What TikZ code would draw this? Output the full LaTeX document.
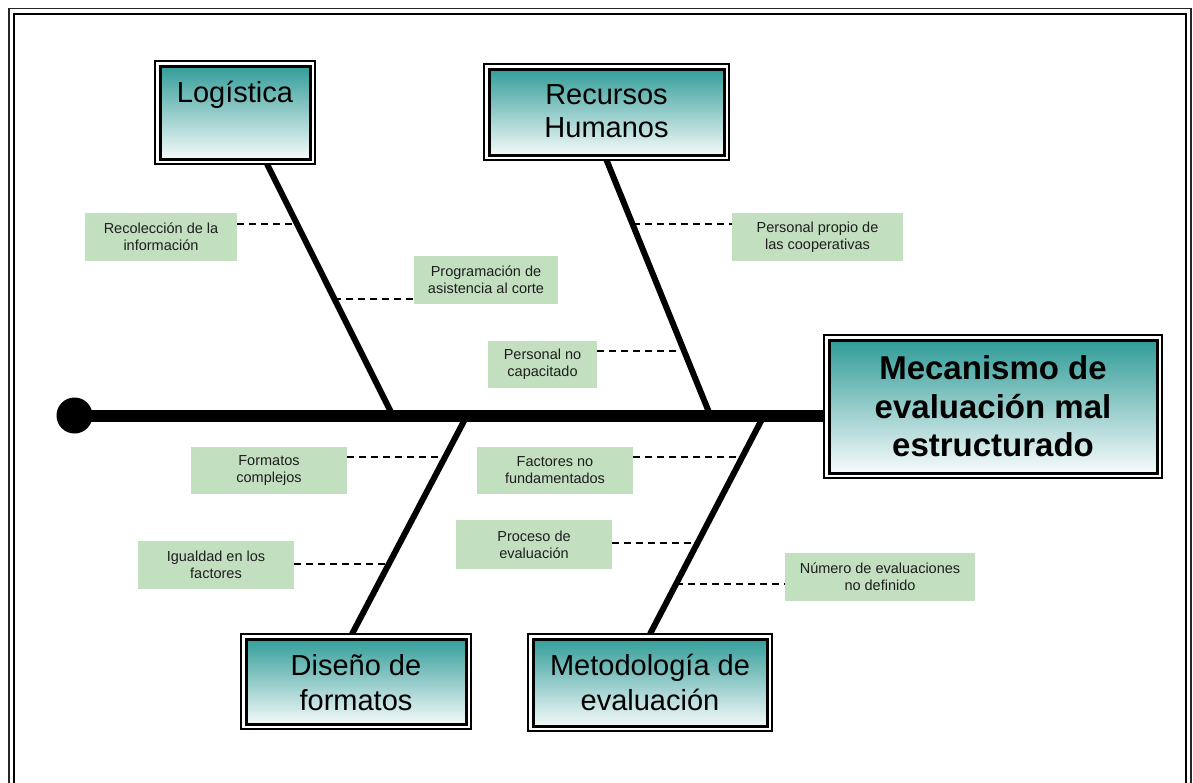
\documentclass[tikz,border=0pt]{standalone}
\usepackage{fontspec}
\setmainfont{Liberation Sans}
\usetikzlibrary{calc,backgrounds}
\definecolor{tealtop}{RGB}{40,152,148}
\definecolor{labgreen}{RGB}{194,224,192}
\definecolor{labtext}{RGB}{30,30,30}
\tikzset{
  catbox/.style={rectangle, draw, line width=2pt, fill=white, inner sep=0pt, outer sep=0pt,
    path picture={
      \shadedraw[top color=tealtop, bottom color=white, draw=black, line width=3pt]
        ([shift={(5pt,-5pt)}]path picture bounding box.north west) rectangle
        ([shift={(-5pt,5pt)}]path picture bounding box.south east);
    }},
  cattext/.style={font=\fontsize{29}{33}\selectfont, align=center, inner sep=0pt, anchor=base},
  headtext/.style={font=\bfseries\fontsize{33}{38.5}\selectfont, align=center},
  lab/.style={rectangle, fill=labgreen, text=labtext, font=\fontsize{14.5}{17}\selectfont,
    align=center, inner sep=0pt, outer sep=0pt},
  spine/.style={line width=12pt},
  bone/.style={line width=6pt},
  dashline/.style={line width=1.3pt, dash pattern=on 7pt off 5pt},
}
\begin{document}
\begin{tikzpicture}[x=1pt, y=-1pt]
\useasboundingbox (0,0) rectangle (1193,782);
\clip (0,0) rectangle (1193,782);

% page frame
\draw[line width=1.6pt, black!85] (9,8.5) rectangle (1191,800);
\draw[line width=2.6pt] (14,14) rectangle (1186,800);

% effect box and category boxes (text base = last line's baseline)
\node[catbox, minimum width=338, minimum height=143] (head) at (993,406.5) {};
\node[headtext] (headt) at (head.center) {Mecanismo de\\evaluación mal\\estructurado};

\node[catbox, minimum width=160, minimum height=103] (log) at (235,112.5) {};
\node[cattext] (logt) at ([yshift=-41pt]log.north) {Logística};

\node[catbox, minimum width=245, minimum height=96] (rec) at (606.5,112) {};
\node[cattext] (rect) at ([yshift=-73pt]rec.north) {Recursos\\Humanos};

\node[catbox, minimum width=230, minimum height=95] (dis) at (356,681.5) {};
\node[cattext, font=\fontsize{29}{35}\selectfont] (dist) at ([yshift=-76pt]dis.north) {Diseño de\\formatos};

\node[catbox, minimum width=244, minimum height=97] (met) at (650,682.5) {};
\node[cattext, font=\fontsize{29}{35}\selectfont] (mett) at ([yshift=-76pt]met.north) {Metodología de\\evaluación};

% tail dot
\node[circle, fill=black, minimum size=36pt, inner sep=0pt] (dot) at (74.5,415.5) {};

% junctions on the spine
\coordinate (j1) at (392.7,415.5);
\coordinate (j2) at (710.3,415.5);
\coordinate (j3) at (466.9,415.5);
\coordinate (j4) at (763.9,415.5);

\begin{scope}[on background layer]
  \draw[spine] (dot.center) -- (dot.center -| head.west);
  \draw[bone] ([xshift=32pt]log.south) -- coordinate[pos=0.2386] (b1) coordinate[pos=0.5368] (b2) (j1);
  \draw[bone] (rec.south) -- coordinate[pos=0.2505] (b3) coordinate[pos=0.7476] (b4) (j2);
  \draw[bone] (j3) -- coordinate[pos=0.19] (b5) coordinate[pos=0.6796] (b8) ([xshift=-4pt]dis.north);
  \draw[bone] (j4) -- coordinate[pos=0.19] (b6) coordinate[pos=0.5835] (b7) coordinate[pos=0.771] (b9) (met.north);
\end{scope}

% causes
\node[lab, minimum width=152, minimum height=48] (l1) at (161,237) {Recolección de la\\información};
\node[lab, minimum width=144, minimum height=48] (l2) at (486,280) {Programación de\\asistencia al corte};
\node[lab, minimum width=171, minimum height=48] (l3) at (817.5,237) {Personal propio de\\las cooperativas};
\node[lab, minimum width=109, minimum height=47] (l4) at (542.5,364.5) {Personal no\\capacitado};
\node[lab, minimum width=156, minimum height=47] (l5) at (269,470.5) {Formatos\\complejos};
\node[lab, minimum width=156, minimum height=47] (l6) at (555,470.5) {Factores no\\fundamentados};
\node[lab, minimum width=156, minimum height=49] (l7) at (534,544.5) {Proceso de\\evaluación};
\node[lab, minimum width=156, minimum height=48] (l8) at (216,565) {Igualdad en los\\factores};
\node[lab, minimum width=190, minimum height=48] (l9) at (880,577) {Número de evaluaciones\\no definido};

% dashed leaders from causes to bones
\draw[dashline] (l1.east |- b1) -- (b1);
\draw[dashline] (b2) -- (b2 -| l2.west);
\draw[dashline] (b3) -- (b3 -| l3.west);
\draw[dashline] (l4.east |- b4) -- (b4);
\draw[dashline] (l5.east |- b5) -- (b5);
\draw[dashline] (l6.east |- b6) -- (b6);
\draw[dashline] (l7.east |- b7) -- (b7);
\draw[dashline] (l8.east |- b8) -- (b8);
\draw[dashline] (b9) -- (b9 -| l9.west);
\end{tikzpicture}
\end{document}
